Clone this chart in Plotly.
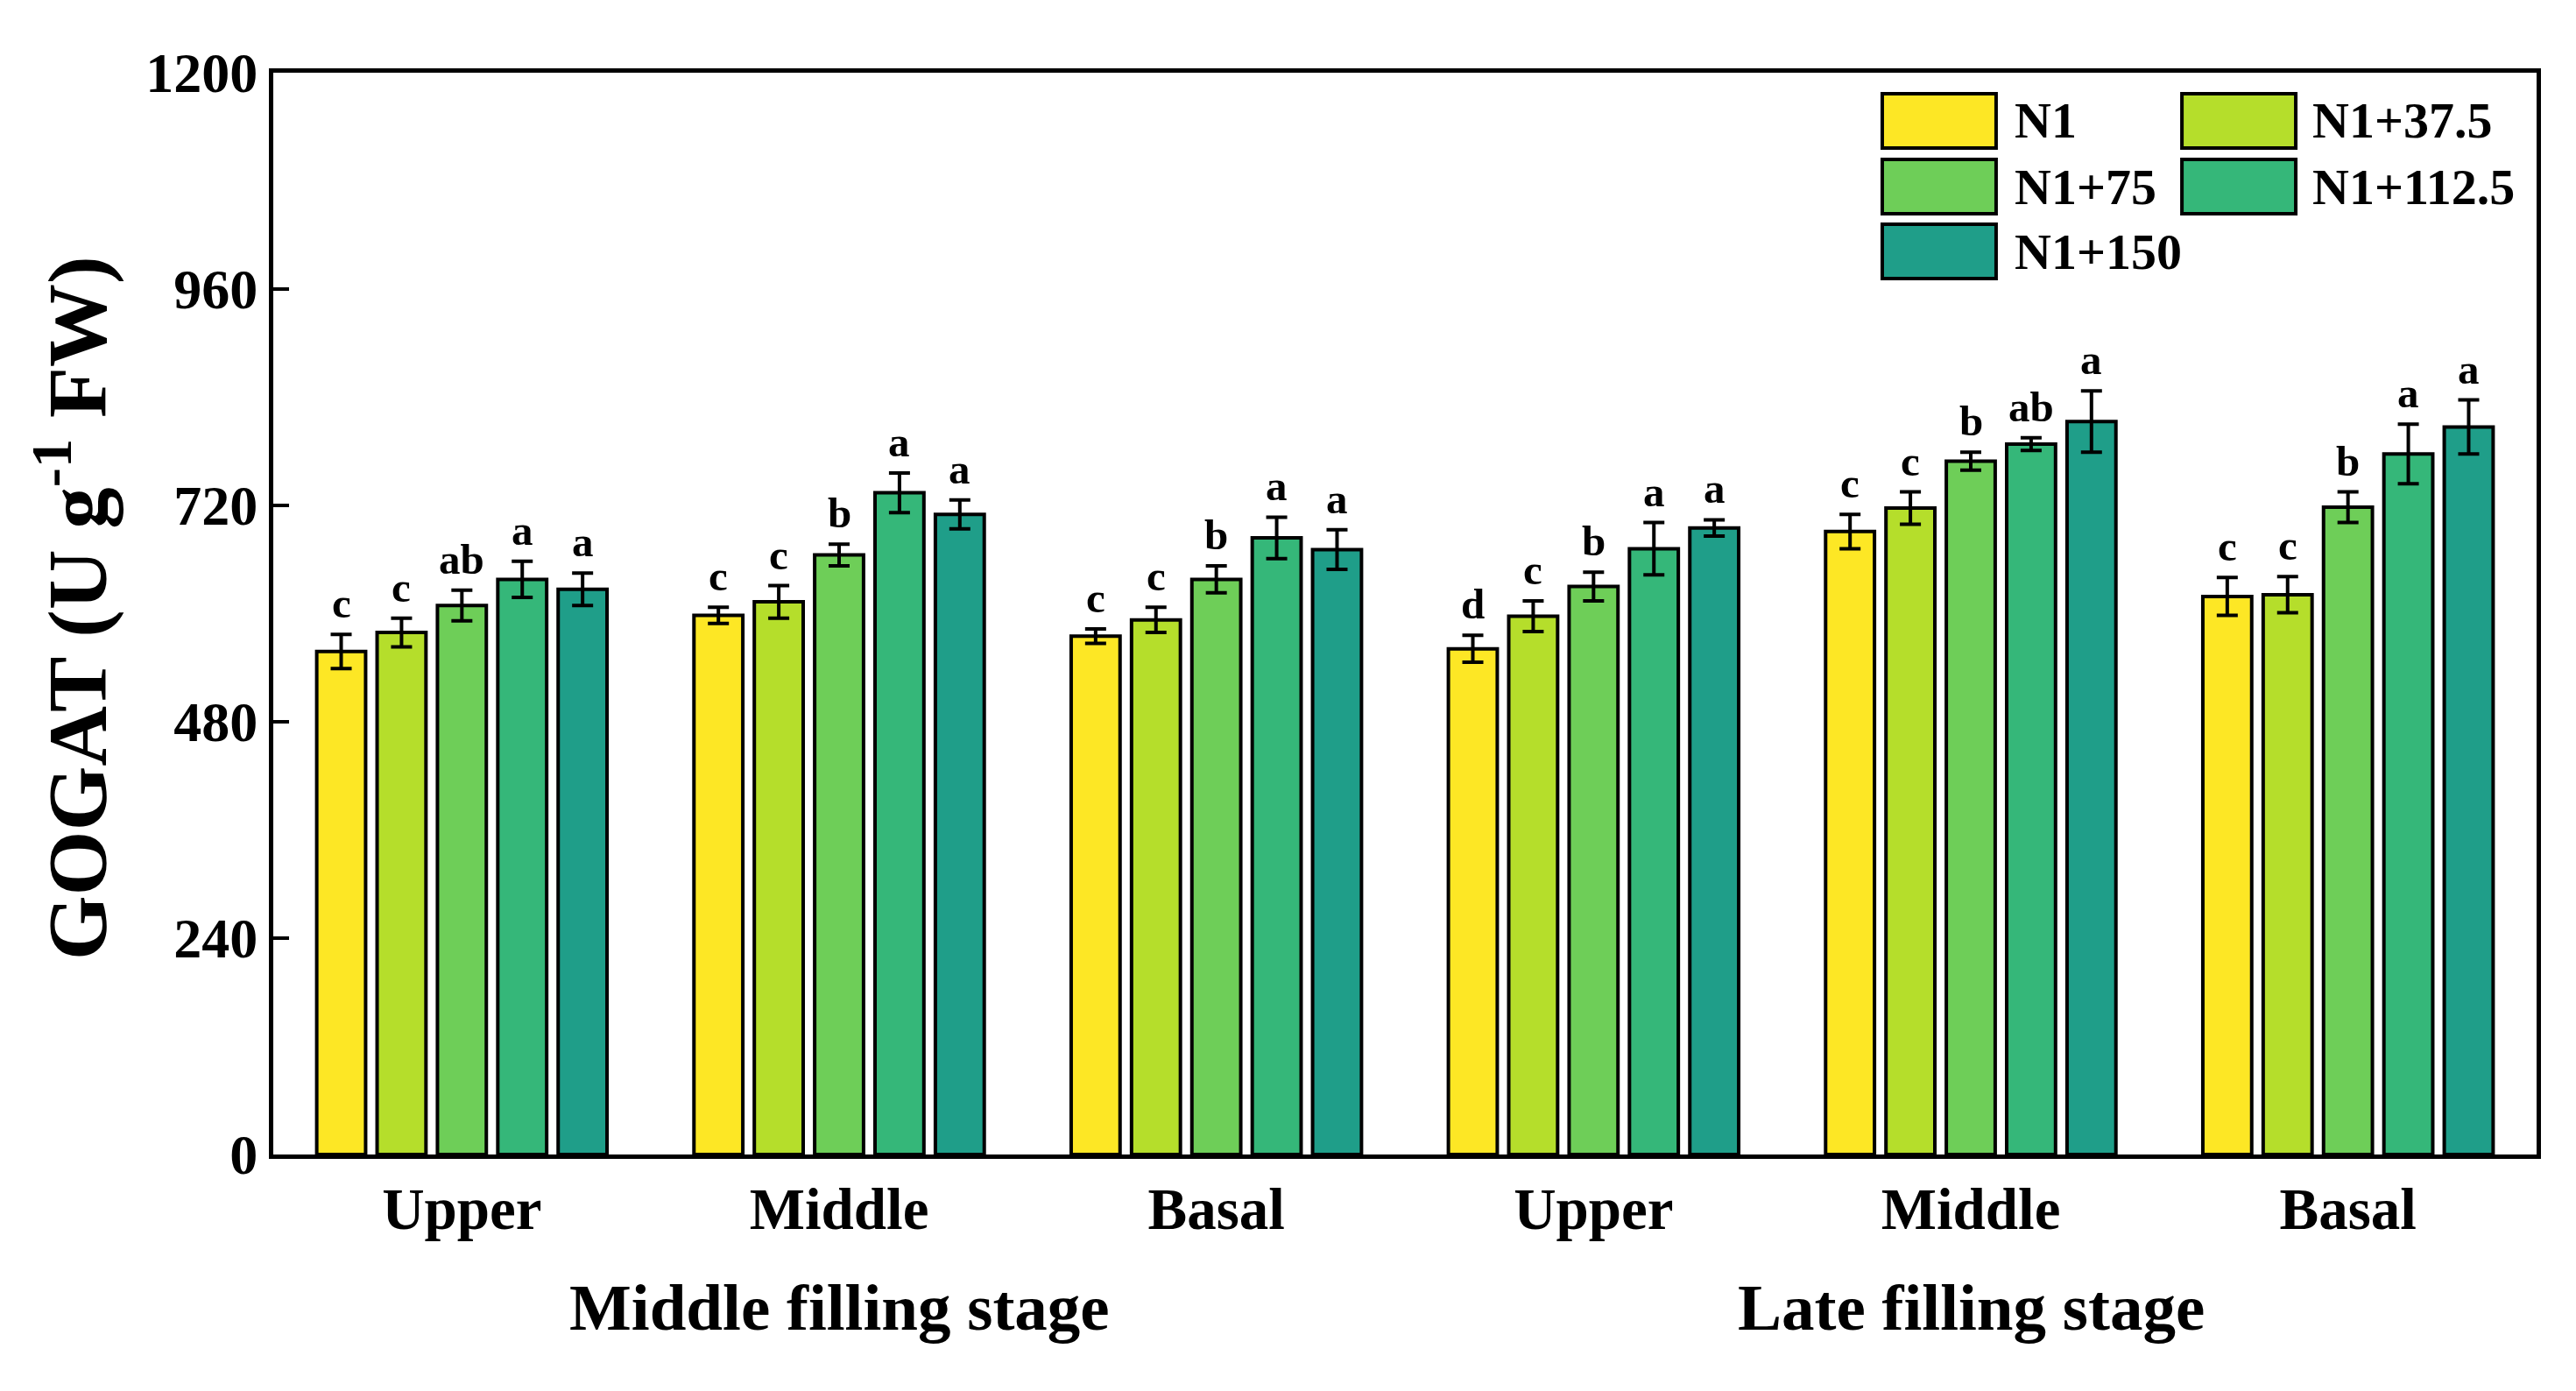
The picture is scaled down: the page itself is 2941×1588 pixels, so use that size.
import plotly.graph_objects as go

# ---------------- data ----------------
positions = ["Upper", "Middle", "Basal", "Upper", "Middle", "Basal"]
stages = ["Middle filling stage", "Late filling stage"]
series = ["N1", "N1+37.5", "N1+75", "N1+112.5", "N1+150"]
colors = ["#FDE725", "#B5DE2B", "#6ECE58", "#35B779", "#1F9E89"]

n1 = [558, 598, 575, 561, 691, 619]
n1_375 = [579, 613, 593, 597, 717, 621]
n1_75 = [609, 665, 638, 630, 769, 718]
n1_1125 = [638, 734, 684, 672, 788, 777]
n1_150 = [627, 710, 671, 695, 813, 807]

err_n1 = [19, 9, 8, 15, 19, 21]
err_n1_375 = [16, 18, 14, 17, 18, 20]
err_n1_75 = [17, 12, 15, 16, 10, 17]
err_n1_1125 = [20, 22, 23, 29, 7, 33]
err_n1_150 = [18, 16, 22, 9, 34, 30]

let_n1 = ["c", "c", "c", "d", "c", "c"]
let_n1_375 = ["c", "c", "c", "c", "c", "c"]
let_n1_75 = ["ab", "b", "b", "b", "b", "b"]
let_n1_1125 = ["a", "a", "a", "a", "ab", "a"]
let_n1_150 = ["a", "a", "a", "a", "a", "a"]

y_ticks = [0, 240, 480, 720, 960, 1200]

values = [n1, n1_375, n1_75, n1_1125, n1_150]
errors = [err_n1, err_n1_375, err_n1_75, err_n1_1125, err_n1_150]
letters = [let_n1, let_n1_375, let_n1_75, let_n1_1125, let_n1_150]

FONT = "Liberation Serif"
W, H = 2941, 1588
ML, MR, MT, MB = 312, 45, 83, 270

x_idx = list(range(len(positions)))

fig = go.Figure()
for name, col, vals, errs in zip(series, colors, values, errors):
    fig.add_trace(go.Bar(
        x=x_idx, y=vals, name=name,
        marker=dict(color=col, line=dict(color="black", width=4)),
        error_y=dict(type="data", array=errs, visible=True,
                     color="black", thickness=4, width=12),
        showlegend=False,
    ))

fig.update_layout(
    barmode="group", bargap=0.2, bargroupgap=0.19,
    width=W, height=H, autosize=False,
    margin=dict(l=ML, r=MR, t=MT, b=MB),
    plot_bgcolor="white", paper_bgcolor="white",
    font=dict(family=FONT, color="black"),
)

fig.update_xaxes(
    range=[-0.5, len(positions) - 0.5],
    tickmode="array", tickvals=x_idx,
    ticktext=["<b>%s</b>" % p for p in positions],
    tickfont=dict(family=FONT, size=67, color="black"),
    showline=True, linecolor="black", linewidth=5, mirror=True,
    ticks="", showgrid=False, zeroline=False,
)
fig.update_yaxes(
    range=[0, 1200], tickmode="array", tickvals=y_ticks,
    ticktext=["<b>%d</b>" % v for v in y_ticks],
    tickfont=dict(family=FONT, size=64, color="black"),
    showline=True, linecolor="black", linewidth=5, mirror=True,
    ticks="inside", ticklen=18, tickwidth=4, tickcolor="black",
    showgrid=False, zeroline=False,
)

# significance letters via annotations anchored on data
annotations = []
n_series = len(series)
slot = (1 - 0.2) / n_series
for si, (vals, errs, lets) in enumerate(zip(values, errors, letters)):
    for gi in x_idx:
        xpos = gi - 0.4 + slot * (si + 0.5)
        annotations.append(dict(
            x=xpos, y=vals[gi] + errs[gi], xref="x", yref="y",
            text="<b>%s</b>" % lets[gi], showarrow=False,
            yanchor="bottom", xanchor="center", yshift=6,
            font=dict(family=FONT, size=49, color="black"),
        ))

# stage labels
for st, gx in zip(stages, [1, 4]):
    annotations.append(dict(
        x=gx, y=-0.141, xref="x", yref="paper", text="<b>%s</b>" % st,
        showarrow=False, xanchor="center", yanchor="middle",
        font=dict(family=FONT, size=75, color="black"),
    ))

# y axis title
annotations.append(dict(
    x=-0.089, y=0.505, xref="paper", yref="paper",
    text="<b>GOGAT (U g<sup>-1</sup> FW)</b>", textangle=-90,
    showarrow=False, xanchor="center", yanchor="middle",
    font=dict(family=FONT, size=95, color="black"),
))

# custom legend (two columns) with big swatches
shapes = []
col_x = [(0.7109, 0.7612, 0.7686), (0.8433, 0.8936, 0.9002)]
row_top = [0.9806, 0.9198, 0.8599]
sw_h = 0.0502
for i, (name, col) in enumerate(zip(series, colors)):
    r, c = divmod(i, 2)
    x0, x1, xt = col_x[c]
    y1 = row_top[r]
    y0 = y1 - sw_h
    shapes.append(dict(type="rect", xref="paper", yref="paper",
                       x0=x0, x1=x1, y0=y0, y1=y1,
                       fillcolor=col, line=dict(color="black", width=4)))
    annotations.append(dict(
        x=xt, y=(y0 + y1) / 2, xref="paper", yref="paper",
        text="<b>%s</b>" % name, showarrow=False,
        xanchor="left", yanchor="middle",
        font=dict(family=FONT, size=58, color="black"),
    ))

fig.update_layout(annotations=annotations, shapes=shapes)

fig.write_html("out.html", config={"displayModeBar": False},
               post_script="document.body.style.margin='0';")
